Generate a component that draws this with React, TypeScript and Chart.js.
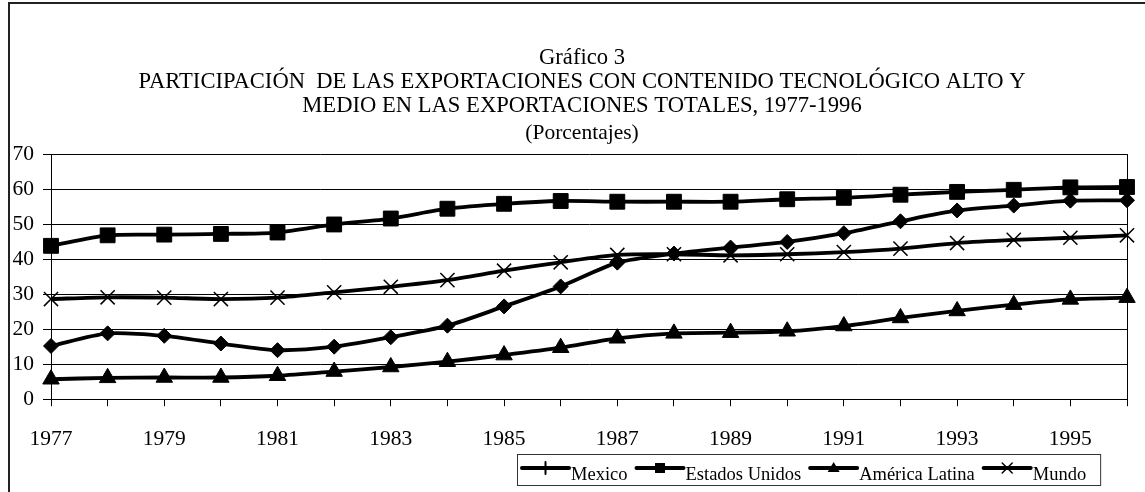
import React, { useEffect, useRef } from 'react';
import { Chart, registerables } from 'chart.js';

Chart.register(...registerables);

// ---- Data ----
const years = ['1977', '1978', '1979', '1980', '1981', '1982', '1983', '1984', '1985', '1986',
  '1987', '1988', '1989', '1990', '1991', '1992', '1993', '1994', '1995', '1996'];

const mexico = [15.2, 18.8, 18.1, 15.9, 14.0, 15.0, 17.7, 21.0, 26.5, 32.2,
  39.0, 41.6, 43.3, 44.9, 47.4, 50.8, 53.9, 55.3, 56.7, 56.8];
const estadosUnidos = [43.8, 46.8, 47.0, 47.2, 47.6, 49.9, 51.6, 54.4, 55.8, 56.6,
  56.4, 56.4, 56.4, 57.1, 57.5, 58.4, 59.2, 59.8, 60.5, 60.6];
const americaLatina = [5.7, 6.1, 6.2, 6.2, 6.7, 7.9, 9.2, 10.7, 12.6, 14.7,
  17.4, 18.8, 19.0, 19.4, 20.9, 23.2, 25.2, 27.0, 28.5, 29.0];
const mundo = [28.6, 29.1, 29.0, 28.6, 29.0, 30.5, 32.1, 34.0, 36.7, 39.1,
  41.2, 41.4, 41.1, 41.4, 42.0, 43.0, 44.6, 45.5, 46.1, 46.8];

const seriesNames = ['Mexico', 'Estados Unidos', 'América Latina', 'Mundo'];
const legendMarkers = ['tick', 'square', 'triangle', 'cross'];

const titleLines = [
  'Gráfico 3',
  'PARTICIPACIÓN  DE LAS EXPORTACIONES CON CONTENIDO TECNOLÓGICO ALTO Y',
  'MEDIO EN LAS EXPORTACIONES TOTALES, 1977-1996',
];
const subtitleText = '(Porcentajes)';

const FONT = "'Liberation Serif', 'Times New Roman', serif";

function drawLegendMarker(ctx: CanvasRenderingContext2D, kind: string, x: number, y: number) {
  ctx.save();
  ctx.fillStyle = '#000';
  ctx.strokeStyle = '#000';
  if (kind === 'tick') {
    ctx.lineWidth = 2;
    ctx.beginPath();
    ctx.moveTo(x, y - 6);
    ctx.lineTo(x, y + 6);
    ctx.stroke();
  } else if (kind === 'square') {
    ctx.fillRect(x - 5, y - 5, 10, 10);
  } else if (kind === 'triangle') {
    ctx.beginPath();
    ctx.moveTo(x, y - 6);
    ctx.lineTo(x + 6, y + 4);
    ctx.lineTo(x - 6, y + 4);
    ctx.closePath();
    ctx.fill();
  } else if (kind === 'cross') {
    ctx.lineWidth = 1.5;
    ctx.beginPath();
    ctx.moveTo(x - 5, y - 5);
    ctx.lineTo(x + 5, y + 5);
    ctx.moveTo(x + 5, y - 5);
    ctx.lineTo(x - 5, y + 5);
    ctx.stroke();
  }
  ctx.restore();
}

const framePlugin = {
  id: 'frameAndLegend',
  beforeDraw(chart: any) {
    const ctx = chart.ctx as CanvasRenderingContext2D;
    ctx.save();
    ctx.fillStyle = '#fff';
    ctx.fillRect(0, 0, chart.width, chart.height);
    ctx.strokeStyle = '#222';
    ctx.lineWidth = 2;
    ctx.beginPath();
    ctx.moveTo(9, chart.height);
    ctx.lineTo(9, 3);
    ctx.lineTo(chart.width, 3);
    ctx.stroke();
    ctx.restore();
  },
  afterDraw(chart: any) {
    const ctx = chart.ctx as CanvasRenderingContext2D;
    const { right, top, bottom } = chart.chartArea;
    ctx.save();
    // plot area right border
    ctx.strokeStyle = '#000';
    ctx.lineWidth = 1;
    ctx.beginPath();
    ctx.moveTo(Math.round(right) + 0.5, top);
    ctx.lineTo(Math.round(right) + 0.5, bottom);
    ctx.stroke();

    // boxed legend
    ctx.font = `18.5px ${FONT}`;
    const yLine = 468;
    const yText = 480;
    const boxLeft = 517;
    const boxTop = 454;
    const boxBottom = 485;
    let x = 522;
    chart.data.datasets.forEach((ds: any, i: number) => {
      ctx.strokeStyle = '#000';
      ctx.lineWidth = 4;
      ctx.lineCap = 'round';
      ctx.beginPath();
      ctx.moveTo(x, yLine);
      ctx.lineTo(x + 47, yLine);
      ctx.stroke();
      drawLegendMarker(ctx, legendMarkers[i], x + 23.5, yLine);
      ctx.fillStyle = '#000';
      ctx.textBaseline = 'alphabetic';
      ctx.textAlign = 'left';
      ctx.fillText(ds.label, x + 49, yText);
      x += 49 + ctx.measureText(ds.label).width + 9;
    });
    const boxRight = x - 9 + 14;
    ctx.lineWidth = 1;
    ctx.strokeStyle = '#333';
    ctx.lineCap = 'butt';
    ctx.strokeRect(boxLeft + 0.5, boxTop + 0.5, boxRight - boxLeft, boxBottom - boxTop);
    ctx.restore();
  },
};

export default function App() {
  const canvasRef = useRef<HTMLCanvasElement | null>(null);

  useEffect(() => {
    if (!canvasRef.current) return;
    const common = {
      borderColor: '#000',
      backgroundColor: '#000',
      borderWidth: 3.8,
      pointBackgroundColor: '#000',
      pointBorderColor: '#000',
      tension: 0.25,
      fill: false,
    };
    const chart = new Chart(canvasRef.current, {
      type: 'line',
      data: {
        labels: years,
        datasets: [
          { ...common, label: seriesNames[0], data: mexico, pointStyle: 'rectRot', pointRadius: 7.5, pointBorderWidth: 1 },
          { ...common, label: seriesNames[1], data: estadosUnidos, pointStyle: 'rect', pointRadius: 10.5, pointBorderWidth: 1 },
          { ...common, label: seriesNames[2], data: americaLatina, pointStyle: 'triangle', pointRadius: 9.5, pointBorderWidth: 1 },
          { ...common, label: seriesNames[3], data: mundo, pointStyle: 'crossRot', pointRadius: 10, pointBorderWidth: 1.5 },
        ],
      },
      options: {
        responsive: false,
        animation: false,
        events: [],
        layout: { padding: { left: 9, right: 0, top: 0, bottom: 20 } },
        font: { family: FONT },
        plugins: {
          legend: { display: false },
          tooltip: { enabled: false },
          title: {
            display: true,
            text: titleLines,
            color: '#000',
            font: { family: FONT, size: 22.6, weight: 'normal', lineHeight: 1.062 },
            padding: { top: 46, bottom: 3 },
          },
          subtitle: {
            display: true,
            text: subtitleText,
            color: '#000',
            font: { family: FONT, size: 21.5, weight: 'normal', lineHeight: 1.12 },
            padding: { top: 0, bottom: 9 },
          },
        },
        scales: {
          x: {
            type: 'category',
            offset: false,
            grid: { display: true, drawOnChartArea: false, drawTicks: true, tickLength: 7, color: '#000', lineWidth: 1 },
            border: { display: true, color: '#000', width: 1 },
            ticks: {
              autoSkip: false,
              maxRotation: 0,
              minRotation: 0,
              padding: 20,
              color: '#000',
              font: { family: FONT, size: 21.5 },
              callback: (_v: any, idx: number) => (idx % 2 === 0 ? years[idx] : ''),
            },
            afterFit: (scale: any) => {
              scale.paddingRight = 28;
            },
          },
          y: {
            min: 0,
            max: 70,
            grid: { display: true, drawOnChartArea: true, drawTicks: true, tickLength: 8, color: '#000', lineWidth: 1 },
            border: { display: true, color: '#000', width: 1 },
            ticks: {
              stepSize: 10,
              padding: 9,
              color: '#000',
              font: { family: FONT, size: 21.5 },
            },
            afterFit: (scale: any) => {
              scale.width = 42;
            },
          },
        },
      },
      plugins: [framePlugin],
    } as any);
    return () => chart.destroy();
  }, []);

  return (
    <div style={{ position: 'absolute', left: 0, top: 0, width: 1145, height: 492, overflow: 'hidden', background: '#fff' }}>
      <canvas ref={canvasRef} width={1155} height={492} style={{ display: 'block', width: 1155, height: 492 }} />
    </div>
  );
}
